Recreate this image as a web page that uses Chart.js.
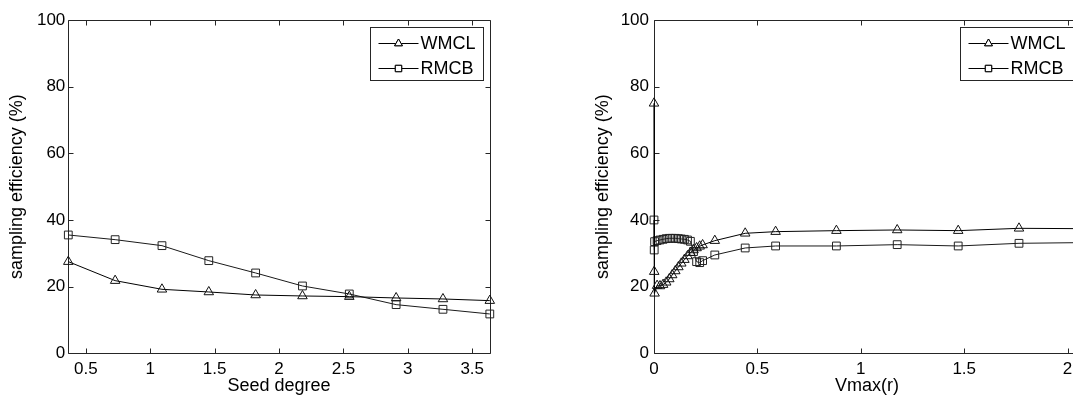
<!DOCTYPE html>
<html><head><meta charset="utf-8">
<script src="https://cdn.jsdelivr.net/npm/chart.js@4.4.1/dist/chart.umd.min.js"></script>
<style>
html,body{margin:0;padding:0;background:#fff;overflow:hidden;width:1073px;height:399px;}
#wrap{position:relative;width:1073px;height:399px;overflow:hidden;background:#fff;}
canvas{position:absolute;top:0;}
#c1{left:0;}
#c2{left:536px;}
</style></head>
<body>
<div id="wrap">
<canvas id="c1" width="536" height="399"></canvas>
<canvas id="c2" width="560" height="399"></canvas>
</div>
<script>
// ---- data ----
const seriesNames = ['WMCL', 'RMCB'];
const seedDegree = [0.3636, 0.7273, 1.0909, 1.4545, 1.8182, 2.1818, 2.5455, 2.9091, 3.2727, 3.6364];
const seedWMCL   = [27.5, 21.8, 19.2, 18.4, 17.5, 17.2, 17.0, 16.6, 16.3, 15.8];
const seedRMCB   = [35.5, 34.1, 32.3, 27.8, 24.1, 20.2, 17.8, 14.6, 13.2, 11.8];

const vmax     = [0, 0.001, 0.003, 0.015, 0.029, 0.044, 0.059, 0.074, 0.088, 0.103, 0.118, 0.132, 0.147, 0.162, 0.176, 0.191, 0.206, 0.221, 0.235, 0.294, 0.441, 0.588, 0.882, 1.176, 1.471, 1.765, 2.059];
const vmaxWMCL = [75, 24.5, 18, 20.3, 20.2, 20.6, 21.3, 22.3, 23.5, 24.7, 25.9, 27.0, 28.1, 29.2, 30.2, 31.0, 31.6, 32.1, 32.5, 33.8, 36.0, 36.5, 36.8, 37.0, 36.8, 37.5, 37.4];
const vmaxRMCB = [40, 31, 33.5, 33.8, 34.0, 34.2, 34.4, 34.5, 34.5, 34.5, 34.4, 34.3, 34.2, 34.0, 33.6, 30.5, 27.5, 27.2, 27.8, 29.5, 31.6, 32.2, 32.2, 32.6, 32.2, 33.0, 33.2];

const seedTicks = [0.5, 1, 1.5, 2, 2.5, 3, 3.5];
const vmaxTicks = [0, 0.5, 1, 1.5, 2];
const yTicks    = [0, 20, 40, 60, 80, 100];
const yTitle = 'sampling efficiency (%)';
const seedTitle = 'Seed degree';
const vmaxTitle = 'Vmax(r)';

// ---- rendering ----
const FONT = "'Liberation Sans', Arial, Helvetica, sans-serif";
const FRAME = '#262626';

const framePlugin = {
  id: 'frame',
  beforeDatasetsDraw(chart) {
    const {ctx, chartArea: a, scales: {x, y}} = chart;
    ctx.save();
    ctx.strokeStyle = FRAME;
    ctx.lineWidth = 1;
    const L = Math.round(a.left) + 0.5, R = Math.round(a.right) + 0.5;
    const T = Math.round(a.top) + 0.5, B = Math.round(a.bottom) + 0.5;
    ctx.beginPath();
    ctx.rect(L, T, R - L, B - T);
    x.ticks.forEach(t => {
      const px = Math.round(x.getPixelForValue(t.value)) + 0.5;
      ctx.moveTo(px, B); ctx.lineTo(px, B - 5);
      ctx.moveTo(px, T); ctx.lineTo(px, T + 5);
    });
    y.ticks.forEach(t => {
      const py = Math.round(y.getPixelForValue(t.value)) + 0.5;
      ctx.moveTo(L, py); ctx.lineTo(L + 5, py);
      ctx.moveTo(R, py); ctx.lineTo(R - 5, py);
    });
    ctx.stroke();
    ctx.restore();
  },
  afterDraw(chart) {
    const {ctx, chartArea: a} = chart;
    const w = 113, h = 53;
    const bx = Math.round(a.right - 7 - w) + 0.5;
    const by = Math.round(a.top + 7) + 0.5;
    ctx.save();
    ctx.fillStyle = '#fff';
    ctx.fillRect(bx, by, w, h);
    ctx.strokeStyle = FRAME;
    ctx.lineWidth = 1;
    ctx.strokeRect(bx, by, w, h);
    chart.data.datasets.forEach((ds, i) => {
      const cy = Math.round(by + 15 + 25 * i) + 0.5;
      ctx.strokeStyle = '#000';
      ctx.beginPath();
      ctx.moveTo(bx + 8, cy); ctx.lineTo(bx + 48, cy);
      ctx.stroke();
      ctx.fillStyle = '#fff';
      Chart.helpers.drawPoint(ctx, {pointStyle: ds.pointStyle, radius: 4.5, borderWidth: 1, rotation: 0}, bx + 28, cy);
      ctx.fill();
      ctx.stroke();
      ctx.fillStyle = '#000';
      ctx.font = '18px ' + FONT;
      ctx.textBaseline = 'middle';
      ctx.textAlign = 'left';
      ctx.fillText(ds.label, bx + 50, cy + 1);
    });
    ctx.restore();
  }
};

function makeChart(id, xs, a, b, xTicks, xMin, xMax, xTitle, g) {
  const mk = (ys) => xs.map((x, i) => ({x: x, y: ys[i]}));
  const common = {
    showLine: true, tension: 0, borderWidth: 1, clip: false,
    pointRadius: 5.5, pointBorderWidth: 1, pointBackgroundColor: 'rgba(255,255,255,0)',
    pointHoverRadius: 5.5
  };
  return new Chart(document.getElementById(id), {
    type: 'scatter',
    data: {
      datasets: [
        Object.assign({label: seriesNames[0], data: mk(a), borderColor: '#000', pointBorderColor: '#111', pointStyle: 'triangle'}, common),
        Object.assign({label: seriesNames[1], data: mk(b), borderColor: '#1a1a1a', pointBorderColor: '#222', pointStyle: 'rect'}, common)
      ]
    },
    options: {
      responsive: false, animation: false, devicePixelRatio: 1,
      layout: {padding: {left: 0, right: g.padR, top: 20, bottom: 0}},
      plugins: {legend: {display: false}, tooltip: {enabled: false}},
      scales: {
        x: {
          type: 'linear', min: xMin, max: xMax,
          afterBuildTicks: s => { s.ticks = xTicks.map(v => ({value: v})); },
          afterFit: s => { s.height = 45.7; },
          grid: {display: false, drawTicks: false}, border: {display: false},
          ticks: {font: {family: FONT, size: 17}, color: '#000', padding: 6, maxRotation: 0, autoSkip: false, callback: v => String(v)},
          title: {display: true, text: xTitle, font: {family: FONT, size: 18}, color: '#000', padding: {top: 0, bottom: 2}}
        },
        y: {
          type: 'linear', min: 0, max: 100,
          afterBuildTicks: s => { s.ticks = yTicks.map(v => ({value: v})); },
          afterFit: s => { s.width = g.yw; },
          grid: {display: false, drawTicks: false}, border: {display: false},
          ticks: {font: {family: FONT, size: 17}, color: '#000', padding: g.yPad, autoSkip: false, callback: v => String(v)},
          title: {display: true, text: yTitle, font: {family: FONT, size: 18}, color: '#000', padding: {top: g.tPad, bottom: 0}}
        }
      }
    },
    plugins: [framePlugin]
  });
}

makeChart('c1', seedDegree, seedWMCL, seedRMCB, seedTicks, seedDegree[0], seedDegree[seedDegree.length - 1], seedTitle,
  {padR: 46.2, yw: 68.3, yPad: 3, tPad: 6});
makeChart('c2', vmax, vmaxWMCL, vmaxRMCB, vmaxTicks, vmax[0], vmax[vmax.length - 1], vmaxTitle,
  {padR: 16.2, yw: 118, yPad: 5, tPad: 56});
</script>
</body></html>
